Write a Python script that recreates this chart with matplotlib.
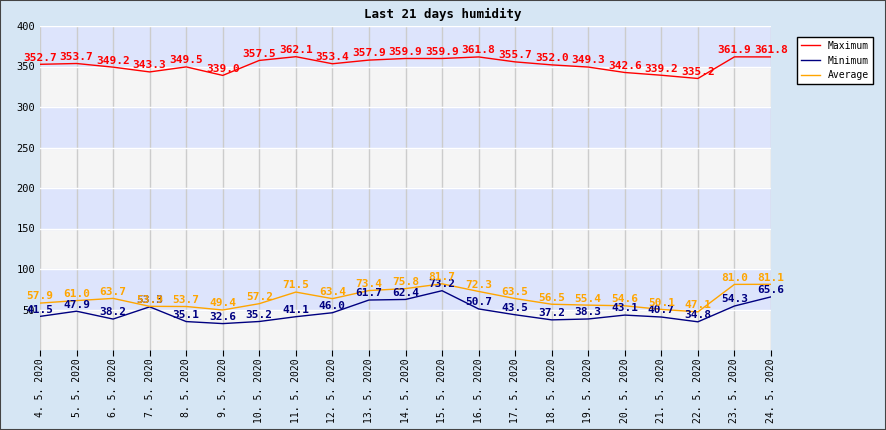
import matplotlib
matplotlib.use("Agg")
import matplotlib.pyplot as plt
from matplotlib.patches import Rectangle

dates = [f"{d}. 5. 2020" for d in range(4, 25)]
maximum = [352.7,353.7,349.2,343.3,349.5,339.0,357.5,362.1,353.4,357.9,359.9,359.9,361.8,355.7,352.0,349.3,342.6,339.2,335.2,361.9,361.8]
minimum = [41.5,47.9,38.2,53.3,35.1,32.6,35.2,41.1,46.0,61.7,62.4,73.2,50.7,43.5,37.2,38.3,43.1,40.7,34.8,54.3,65.6]
average = [57.9,61.0,63.7,53.9,53.7,49.4,57.2,71.5,63.4,73.4,75.8,81.7,72.3,63.5,56.5,55.4,54.6,50.1,47.1,81.0,81.1]

plt.rcParams["font.family"] = "DejaVu Sans Mono"
fig = plt.figure(figsize=(8.86, 4.30), dpi=100)
fig.patch.set_facecolor("#d6e6f4")
fig.patches.append(Rectangle((0, 0), 1, 1, transform=fig.transFigure, fill=False, edgecolor="#444444", lw=1.5))
ax = fig.add_axes([40/886, 1-350/430, 731/886, 324/430])
ax.set_facecolor("#f5f5f5")
for lo in range(50, 400, 100):
    ax.axhspan(lo, lo+50, color="#dde4fc", zorder=0)
ax.set_ylim(0, 400)
ax.set_xlim(0, len(dates)-1)
ax.set_yticks(range(50, 401, 50))
ax.set_xticks(range(len(dates)))
ax.set_xticklabels(dates, rotation=90, fontsize=7)
ax.tick_params(axis="y", labelsize=7.5, length=0)
ax.tick_params(axis="x", length=4, pad=2)
ax.grid(axis="x", color="#cccccc", lw=1)
ax.grid(axis="y", color="white", lw=1)
ax.set_axisbelow(True)
for s in ax.spines.values():
    s.set_visible(False)
x = range(len(dates))
series = [(maximum, "red", "Maximum"), (minimum, "#000080", "Minimum"), (average, "orange", "Average")]
for vals, c, lab in series:
    ax.plot(x, vals, color=c, lw=1, label=lab)
for vals, c, lab in series:
    for i, v in zip(x, vals):
        ax.text(i, v+2, f"{v:.1f}", color=c, fontsize=8, fontweight="bold", ha="center", va="bottom")
fig.text(0.5, 1-14/430, "Last 21 days humidity", ha="center", va="center", fontsize=9, fontweight="bold")
leg = fig.legend(loc="upper right", bbox_to_anchor=(878/886, 1-32/430), fontsize=7, fancybox=False, edgecolor="black", framealpha=1)
fig.savefig("out.png", dpi=100, facecolor=fig.get_facecolor())
